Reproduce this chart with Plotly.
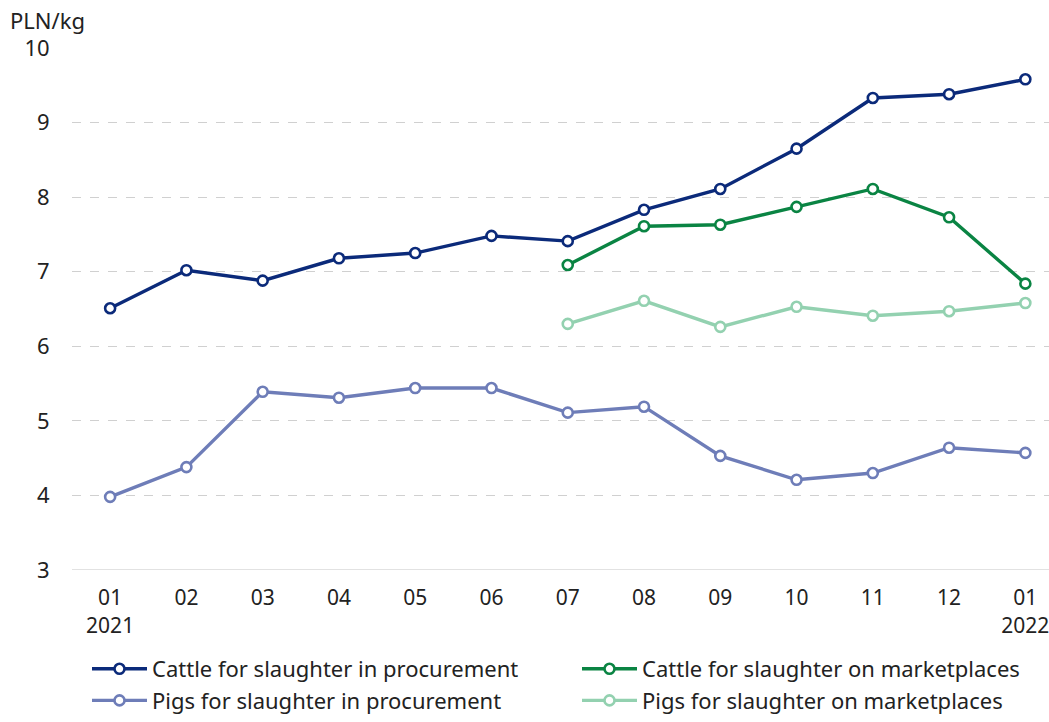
import plotly.graph_objects as go

months = ["01", "02", "03", "04", "05", "06", "07", "08", "09", "10", "11", "12", "01 "]
tick_text = ["01<br>2021", "02", "03", "04", "05", "06", "07", "08", "09", "10", "11", "12", "01<br>2022"]

cattle_proc = [6.51, 7.02, 6.88, 7.18, 7.25, 7.48, 7.41, 7.83, 8.11, 8.65, 9.33, 9.38, 9.58]
cattle_market = [None, None, None, None, None, None, 7.09, 7.61, 7.63, 7.87, 8.11, 7.73, 6.84]
pigs_proc = [3.98, 4.38, 5.39, 5.31, 5.44, 5.44, 5.11, 5.19, 4.53, 4.21, 4.30, 4.64, 4.57]
pigs_market = [None, None, None, None, None, None, 6.30, 6.61, 6.26, 6.53, 6.41, 6.47, 6.58]

series = [
    ("Cattle for slaughter in procurement", cattle_proc, "#0b2a7a"),
    ("Cattle for slaughter on marketplaces", cattle_market, "#0a8443"),
    ("Pigs for slaughter in procurement", pigs_proc, "#6e7db8"),
    ("Pigs for slaughter on marketplaces", pigs_market, "#93d1b0"),
]

x_idx = list(range(len(months)))

fig = go.Figure()
for name, vals, color in series:
    fig.add_trace(go.Scatter(
        x=x_idx, y=vals, name=name, mode="lines+markers",
        line=dict(color=color, width=3.4),
        marker=dict(symbol="circle", size=10, color="white",
                    line=dict(color=color, width=2.6)),
        connectgaps=False,
    ))

font_family = "Noto Sans, Open Sans, sans-serif"

W, H = 1049, 722
L, R, T, B = 72, 0, 48, 152
PW = W - L - R

fig.update_layout(
    width=W, height=H,
    paper_bgcolor="white", plot_bgcolor="white",
    margin=dict(l=L, r=R, t=T, b=B, autoexpand=False),
    font=dict(family=font_family, size=22, color="#222222"),
    showlegend=True,
    legend=dict(
        orientation="h", xref="container", yref="container",
        x=87 / W, y=1 - 648 / H, xanchor="left", yanchor="top",
        entrywidth=420, entrywidthmode="pixels",
        font=dict(size=22, color="#222222"),
        itemwidth=55, tracegroupgap=0,
    ),
    xaxis=dict(
        tickmode="array", tickvals=x_idx, ticktext=tick_text,
        range=[-0.5, 12.31], automargin=False,
        showgrid=False, zeroline=False,
        showline=False, ticklabeloverflow="allow",
        ticks="outside", ticklen=9, tickcolor="rgba(0,0,0,0)",
        tickfont=dict(size=21),
    ),
    yaxis=dict(
        range=[3, 10], dtick=1, tick0=3, automargin=False,
        showgrid=True, gridcolor="#d0d0d0", griddash="dash", gridwidth=1,
        zeroline=False, showline=False,
        ticks="outside", ticklen=17, tickcolor="rgba(0,0,0,0)",
        tickfont=dict(size=22),
    ),
    annotations=[dict(
        text="PLN/kg", xref="paper", yref="paper", x=-(L - 8) / PW, y=1.0,
        xanchor="left", yanchor="middle", showarrow=False,
        font=dict(size=22, color="#222222"), yshift=28,
    )],
    shapes=[dict(type="line", xref="paper", yref="y", x0=0, x1=1, y0=3, y1=3,
                 line=dict(color="#d9d9d9", width=1.5))],
)

fig.write_html(
    "out.html",
    config={"displayModeBar": False},
    post_script="document.body.style.margin='0px';document.body.style.overflow='hidden';",
)
